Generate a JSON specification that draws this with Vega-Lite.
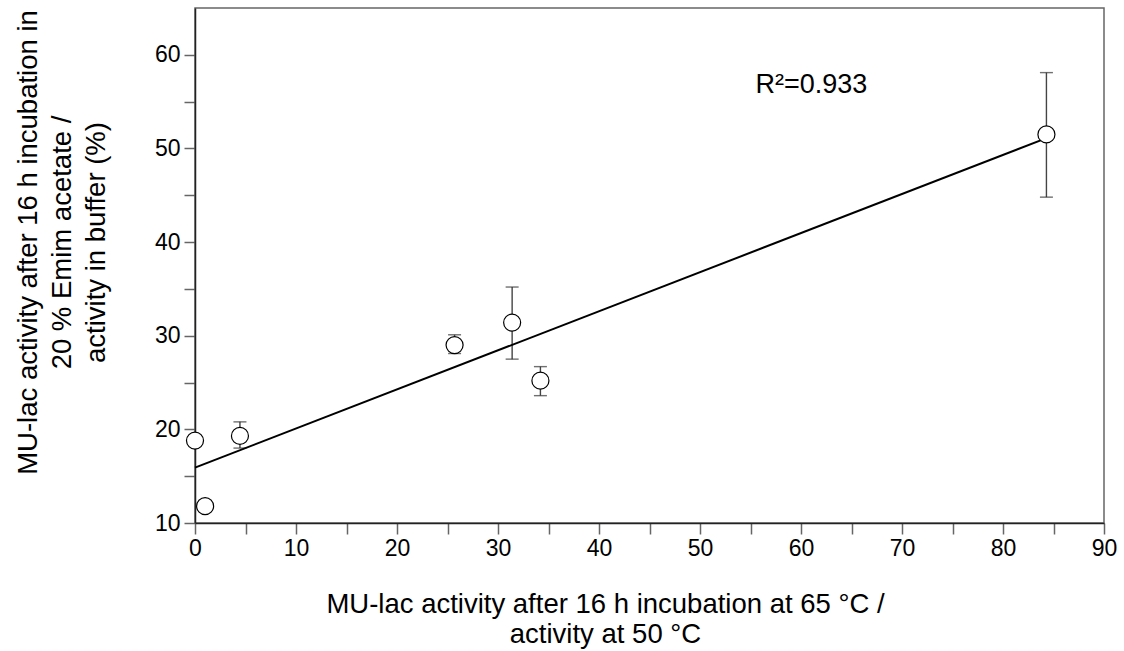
{
  "$schema": "https://vega.github.io/schema/vega-lite/v6.json",
  "width": 909,
  "height": 515,
  "autosize": "none",
  "padding": {"left": 195, "top": 8, "right": 20, "bottom": 128},
  "background": "white",
  "config": {
    "font": "Liberation Sans",
    "view": {"stroke": "#666", "strokeWidth": 1.5},
    "axis": {
      "grid": false,
      "labelFont": "Liberation Sans",
      "titleFont": "Liberation Sans",
      "labelFontSize": 23,
      "titleFontSize": 27.5,
      "titleFontWeight": "normal",
      "labelColor": "black",
      "titleColor": "black",
      "tickColor": "#666",
      "domainColor": "#222",
      "tickSize": 11,
      "tickWidth": 1.5,
      "domainWidth": 1.5,
      "labelFlush": false,
      "labelOverlap": false
    }
  },
  "datasets": {
    "pts": [
      {"x": 0, "y": 18.8, "lo": 18.8, "hi": 18.8},
      {"x": 1.0, "y": 11.8, "lo": 11.3, "hi": 12.4},
      {"x": 4.45, "y": 19.3, "lo": 18.0, "hi": 20.8},
      {"x": 25.7, "y": 29.0, "lo": 28.1, "hi": 30.1},
      {"x": 31.4, "y": 31.4, "lo": 27.5, "hi": 35.2},
      {"x": 34.2, "y": 25.2, "lo": 23.6, "hi": 26.7},
      {"x": 84.3, "y": 51.5, "lo": 44.8, "hi": 58.1}
    ],
    "errs": [
      {"x": 1.0, "v": 11.3}, {"x": 1.0, "v": 12.4},
      {"x": 4.45, "v": 18.0}, {"x": 4.45, "v": 20.8},
      {"x": 25.7, "v": 28.1}, {"x": 25.7, "v": 30.1},
      {"x": 31.4, "v": 27.5}, {"x": 31.4, "v": 35.2},
      {"x": 34.2, "v": 23.6}, {"x": 34.2, "v": 26.7},
      {"x": 84.3, "v": 44.8}, {"x": 84.3, "v": 58.1}
    ],
    "note": [{"x": 55.5, "y": 56.8, "t": "R²=0.933"}]
  },
  "layer": [
    {
      "data": {"name": "pts"},
      "mark": {"type": "rule", "color": "#444", "strokeWidth": 1.4},
      "encoding": {
        "x": {
          "field": "x", "type": "quantitative",
          "scale": {"domain": [0, 90], "nice": false, "zero": false},
          "axis": {
            "values": [0, 5, 10, 15, 20, 25, 30, 35, 40, 45, 50, 55, 60, 65, 70, 75, 80, 85, 90],
            "labelExpr": "datum.value % 10 === 0 ? datum.label : ''",
            "title": ["MU-lac activity after 16 h incubation at 65 °C /", "activity at 50 °C"],
            "titlePadding": 30,
            "titleLineHeight": 30,
            "titleX": 410,
            "labelPadding": 3
          }
        },
        "y": {
          "field": "lo", "type": "quantitative",
          "scale": {"domain": [10, 65], "nice": false, "zero": false},
          "axis": {
            "values": [10, 15, 20, 25, 30, 35, 40, 45, 50, 55, 60],
            "labelExpr": "datum.value % 10 === 0 ? datum.label : ''",
            "title": ["MU-lac activity after 16 h incubation in", "20 % Emim acetate /", "activity in buffer (%)"],
            "titlePadding": 44,
            "titleLineHeight": 34,
            "titleY": 234,
            "labelPadding": 4
          }
        },
        "y2": {"field": "hi"}
      }
    },
    {
      "data": {"name": "errs"},
      "mark": {"type": "tick", "orient": "horizontal", "color": "#333", "thickness": 1.4, "size": 13},
      "encoding": {
        "x": {"field": "x", "type": "quantitative"},
        "y": {"field": "v", "type": "quantitative"}
      }
    },
    {
      "data": {"name": "pts"},
      "transform": [{"regression": "y", "on": "x"}],
      "mark": {"type": "line", "color": "black", "strokeWidth": 2},
      "encoding": {
        "x": {"field": "x", "type": "quantitative"},
        "y": {"field": "y", "type": "quantitative"}
      }
    },
    {
      "data": {"name": "pts"},
      "mark": {"type": "point", "shape": "circle", "filled": false, "fill": "white", "fillOpacity": 1, "stroke": "black", "strokeWidth": 1.2, "size": 290, "opacity": 1},
      "encoding": {
        "x": {"field": "x", "type": "quantitative"},
        "y": {"field": "y", "type": "quantitative"}
      }
    },
    {
      "data": {"name": "note"},
      "mark": {"type": "text", "align": "left", "baseline": "middle", "fontSize": 27, "font": "Liberation Sans", "color": "black"},
      "encoding": {
        "x": {"field": "x", "type": "quantitative"},
        "y": {"field": "y", "type": "quantitative"},
        "text": {"field": "t"}
      }
    }
  ]
}
